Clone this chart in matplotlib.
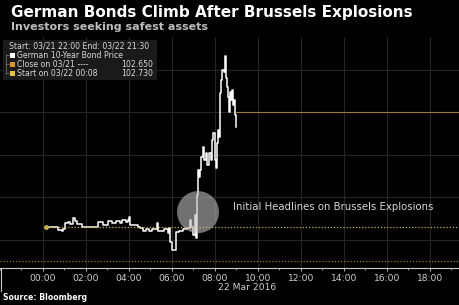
import matplotlib
matplotlib.use("Agg")
import matplotlib.pyplot as plt
from matplotlib.patches import Ellipse, Rectangle
from matplotlib.lines import Line2D
import matplotlib.ticker as mticker

# ---- data (hours after 00:00 on 22 Mar 2016, price) ----
hours = [0.14, 0.65, 0.70, 0.88, 0.93, 1.02, 1.16, 1.26, 1.40, 1.49, 1.58, 1.72, 1.81,
         2.51, 2.56, 2.74, 2.79, 2.98, 3.02, 3.21, 3.40, 3.58, 3.67, 3.86, 3.95, 4.00,
         4.05, 4.37, 4.42, 4.51, 4.65, 4.79, 4.93, 5.07, 5.21, 5.30, 5.35, 5.53, 5.63,
         5.81, 5.86, 5.91, 6.00, 6.14, 6.19, 6.33, 6.51, 6.70, 6.84, 6.88, 6.98, 7.07,
         7.12, 7.16, 7.21, 7.26, 7.30, 7.35, 7.44, 7.49, 7.58, 7.63, 7.72, 7.81, 7.86,
         7.91, 8.00, 8.05, 8.09, 8.14, 8.19, 8.23, 8.28, 8.33, 8.42, 8.47, 8.51, 8.56,
         8.60, 8.65, 8.70, 8.74, 8.79, 8.84, 8.88, 8.93, 8.98]
prices = [102.730, 102.730, 102.723, 102.721, 102.725, 102.739, 102.742, 102.737, 102.751,
          102.744, 102.737, 102.737, 102.730, 102.730, 102.742, 102.742, 102.735, 102.735,
          102.744, 102.739, 102.744, 102.739, 102.746, 102.742, 102.746, 102.754, 102.735,
          102.735, 102.730, 102.728, 102.721, 102.725, 102.721, 102.725, 102.725, 102.739,
          102.721, 102.721, 102.725, 102.716, 102.728, 102.695, 102.676, 102.676, 102.718,
          102.721, 102.725, 102.728, 102.746, 102.730, 102.711, 102.758, 102.704, 102.805,
          102.864, 102.848, 102.864, 102.895, 102.918, 102.888, 102.904, 102.876, 102.904,
          102.888, 102.935, 102.951, 102.888, 102.869, 102.928, 102.958, 102.942, 103.045,
          103.076, 103.099, 103.094, 103.132, 103.081, 103.059, 103.036, 103.001, 103.048,
          103.029, 103.052, 103.017, 103.029, 102.994, 102.965]
close_prev = 102.650
start_price = 102.730
last_price = 103.000
tick_hours = [0, 2, 4, 6, 8, 10, 12, 14, 16, 18]
tick_labels = ["00:00", "02:00", "04:00", "06:00", "08:00", "10:00", "12:00", "14:00", "16:00", "18:00"]

W, H = 459, 305
fig = plt.figure(figsize=(W / 100, H / 100), dpi=100, facecolor="black")
ax = fig.add_axes([0, (H - 268) / H, 1, (268 - 37) / H], facecolor="black")

ax.set_xlim(-2.0, 19.35)
ax.set_ylim(102.6335, 103.177)

# grid
for h in tick_hours:
    ax.axvline(h, color="#252525", lw=0.8, zorder=0)
for v in [102.7, 102.8, 102.9, 103.0, 103.1]:
    ax.axhline(v, color="#252525", lw=0.8, zorder=0)

# reference lines
ax.axhline(close_prev, color="#9a7d1e", lw=0.9, ls=(0, (1, 1.5)), zorder=2)
ax.plot([hours[0], 19.35], [start_price, start_price], color="#c9b23a", lw=0.9,
        ls=(0, (1, 1.5)), zorder=4)
ax.plot([hours[-1], 19.35], [last_price, last_price], color="#a07a3a", lw=0.8, zorder=2)

# price line
ax.plot(hours, prices, color="white", lw=1.1, drawstyle="steps-post", zorder=3)
ax.plot([hours[0]], [start_price], "o", color="#c9b23a", ms=2.5, zorder=5)

# circle marker
ax.add_patch(Ellipse((7.21, 102.765), 1.95, 0.0988, facecolor="#bdbdbd", alpha=0.6,
                     edgecolor="none", zorder=5))
ax.text(8.84, 102.776, "Initial Headlines on Brussels Explosions", color="#d8d8d8",
        fontsize=7.3, va="center", ha="left")

# axes styling
for s in ["top", "right", "left"]:
    ax.spines[s].set_visible(False)
ax.spines["bottom"].set_color("#cccccc")
ax.spines["bottom"].set_linewidth(0.8)
ax.set_xticks(tick_hours)
ax.set_xticklabels(tick_labels)
ax.xaxis.set_minor_locator(mticker.MultipleLocator(1))
ax.tick_params(axis="x", which="major", colors="#d0d0d0", labelsize=6.6, length=2.5, width=0.6, pad=1.5)
ax.tick_params(axis="x", which="minor", colors="#cccccc", length=1.5, width=0.5)
ax.set_yticks([])

fig.text(247 / W, 1 - 287 / H, "22 Mar 2016", color="#d0d0d0", fontsize=6.6, ha="center", va="center")
fig.add_artist(Line2D([0.5 / W, 0.5 / W], [1 - 268 / H, 1 - 291 / H], color="#cccccc", lw=0.8))

# titles
fig.text(11 / W, 1 - 12 / H, "German Bonds Climb After Brussels Explosions", color="white",
         fontsize=11, fontweight="bold", ha="left", va="center")
fig.text(11 / W, 1 - 27 / H, "Investors seeking safest assets", color="#bdbdbd",
         fontsize=8, fontweight="bold", ha="left", va="center")
fig.text(3 / W, 1 - 298 / H, "Source: Bloomberg", color="white", fontsize=5.6,
         fontweight="bold", ha="left", va="center")

# legend box
fig.add_artist(Rectangle((3 / W, 1 - 80 / H), 154 / W, 40 / H, transform=fig.transFigure,
                         facecolor="#1a1a1a", edgecolor="none", zorder=6))
lt = dict(color="#d8d8d8", fontsize=5.6, va="center", zorder=7)
fig.text(9 / W, 1 - 46 / H, "Start: 03/21 22:00 End: 03/22 21:30", ha="left", **lt)
rows = [("German 10-Year Bond Price", "", "white", 55),
        ("Close on 03/21 ----", "102.650", "#e0961c", 64),
        ("Start on 03/22 00:08", "102.730", "#e4c433", 73)]
for label, val, col, y in rows:
    fig.add_artist(Rectangle((10 / W, 1 - (y + 3) / H), 5 / W, 5 / H, transform=fig.transFigure,
                             facecolor=col, edgecolor="none", zorder=7))
    fig.text(17 / W, 1 - y / H, label, ha="left", **lt)
    if val:
        fig.text(153 / W, 1 - y / H, val, ha="right", **lt)
fig.add_artist(Line2D([6 / W, 6 / W], [1 - 54 / H, 1 - 74 / H], color="#777777", lw=0.5, zorder=7))
for y in [55, 64, 73]:
    fig.add_artist(Line2D([6 / W, 9 / W], [1 - y / H, 1 - y / H], color="#777777", lw=0.5, zorder=7))

fig.savefig("out.png", dpi=100, facecolor="black")
